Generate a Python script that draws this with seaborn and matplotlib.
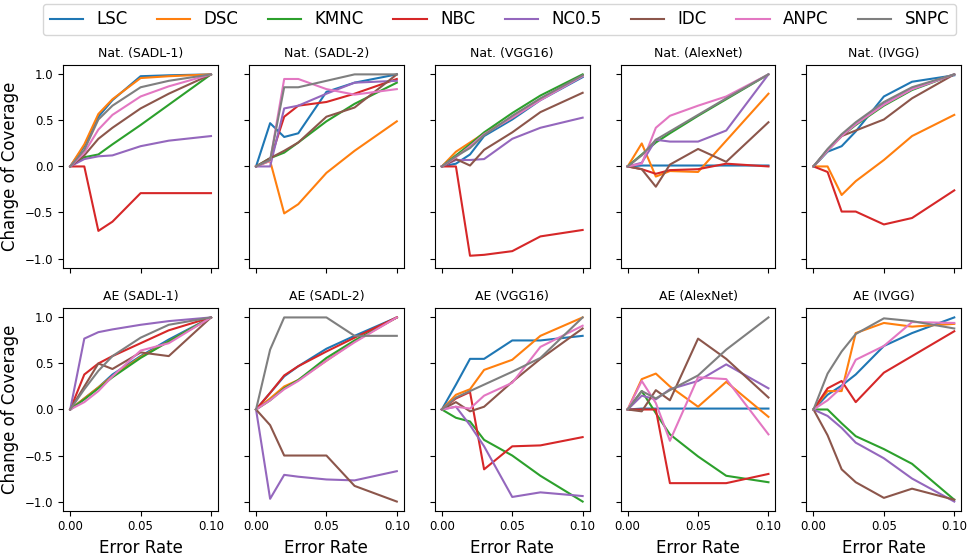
import matplotlib
matplotlib.use("Agg")
import matplotlib.pyplot as plt
from matplotlib.lines import Line2D
from matplotlib.ticker import FormatStrFormatter
import pandas as pd
import seaborn as sns

error_rates = [0.0, 0.01, 0.02, 0.03, 0.05, 0.07, 0.10]
metrics = ['LSC', 'DSC', 'KMNC', 'NBC', 'NC0.5', 'IDC', 'ANPC', 'SNPC']

# each panel: one row per metric, same order as `metrics`
nat_sadl1 = [
    [0, 0.22, 0.54, 0.72, 0.98, 0.99, 1.0],
    [0, 0.24, 0.57, 0.73, 0.96, 0.98, 1.0],
    [0, 0.10, 0.13, 0.24, 0.45, 0.67, 1.0],
    [0, 0.0, -0.70, -0.60, -0.29, -0.29, -0.29],
    [0, 0.08, 0.11, 0.12, 0.22, 0.28, 0.33],
    [0, 0.12, 0.30, 0.42, 0.63, 0.79, 1.0],
    [0, 0.15, 0.40, 0.56, 0.76, 0.87, 1.0],
    [0, 0.18, 0.51, 0.66, 0.86, 0.93, 1.0],
]
nat_sadl2 = [
    [0, 0.47, 0.32, 0.36, 0.81, 0.91, 1.0],
    [0, 0.06, -0.51, -0.41, -0.07, 0.17, 0.49],
    [0, 0.09, 0.15, 0.26, 0.49, 0.68, 0.91],
    [0, 0.07, 0.54, 0.66, 0.70, 0.79, 0.95],
    [0, 0.0, 0.63, 0.66, 0.79, 0.91, 0.93],
    [0, 0.09, 0.17, 0.26, 0.54, 0.64, 1.0],
    [0, 0.06, 0.95, 0.95, 0.84, 0.78, 0.84],
    [0, 0.07, 0.86, 0.86, 0.93, 1.0, 1.0],
]
nat_vgg16 = [
    [0, 0.03, 0.13, 0.33, 0.51, 0.72, 0.97],
    [0, 0.16, 0.26, 0.36, 0.53, 0.73, 0.99],
    [0, 0.12, 0.24, 0.37, 0.58, 0.77, 1.0],
    [0, 0.0, -0.97, -0.96, -0.92, -0.76, -0.69],
    [0, 0.07, 0.07, 0.08, 0.30, 0.42, 0.53],
    [0, 0.08, 0.01, 0.18, 0.37, 0.59, 0.80],
    [0, 0.10, 0.22, 0.35, 0.53, 0.72, 0.98],
    [0, 0.11, 0.20, 0.34, 0.55, 0.74, 0.99],
]
nat_alexnet = [
    [0, 0.01, 0.01, 0.01, 0.01, 0.01, 0.01],
    [0, 0.25, -0.11, -0.05, -0.06, 0.28, 0.79],
    [0, 0.13, 0.26, 0.36, 0.55, 0.73, 1.0],
    [0, -0.03, -0.08, -0.04, -0.03, 0.03, 0.0],
    [0, 0.04, 0.29, 0.27, 0.27, 0.39, 1.0],
    [0, -0.03, -0.22, 0.02, 0.19, 0.05, 0.48],
    [0, 0.03, 0.42, 0.55, 0.66, 0.76, 1.0],
    [0, 0.12, 0.29, 0.38, 0.56, 0.74, 1.0],
]
nat_ivgg = [
    [0, 0.16, 0.22, 0.38, 0.76, 0.92, 0.99],
    [0, 0.0, -0.31, -0.16, 0.07, 0.33, 0.56],
    [0, 0.17, 0.33, 0.45, 0.66, 0.83, 1.0],
    [0, -0.06, -0.49, -0.49, -0.63, -0.56, -0.26],
    [0, 0.18, 0.34, 0.46, 0.68, 0.84, 1.0],
    [0, 0.18, 0.33, 0.39, 0.51, 0.74, 1.0],
    [0, 0.17, 0.33, 0.46, 0.67, 0.84, 1.0],
    [0, 0.19, 0.35, 0.48, 0.70, 0.86, 1.0],
]
ae_sadl1 = [
    [0, 0.12, 0.24, 0.38, 0.58, 0.76, 1.0],
    [0, 0.12, 0.24, 0.36, 0.57, 0.74, 1.0],
    [0, 0.11, 0.23, 0.35, 0.56, 0.74, 1.0],
    [0, 0.38, 0.50, 0.58, 0.72, 0.86, 1.0],
    [0, 0.77, 0.84, 0.87, 0.92, 0.96, 1.0],
    [0, 0.25, 0.50, 0.44, 0.62, 0.58, 1.0],
    [0, 0.08, 0.20, 0.36, 0.64, 0.72, 1.0],
    [0, 0.22, 0.42, 0.58, 0.78, 0.92, 1.0],
]
ae_sadl2 = [
    [0, 0.18, 0.36, 0.47, 0.66, 0.80, 1.0],
    [0, 0.12, 0.25, 0.32, 0.53, 0.74, 1.0],
    [0, 0.10, 0.23, 0.32, 0.56, 0.75, 1.0],
    [0, 0.18, 0.37, 0.47, 0.63, 0.78, 1.0],
    [0, -0.97, -0.71, -0.73, -0.76, -0.77, -0.67],
    [0, -0.17, -0.50, -0.50, -0.50, -0.83, -1.0],
    [0, 0.10, 0.22, 0.31, 0.53, 0.73, 1.0],
    [0, 0.65, 1.0, 1.0, 1.0, 0.80, 0.80],
]
ae_vgg16 = [
    [0, 0.27, 0.55, 0.55, 0.75, 0.75, 0.80],
    [0, 0.16, 0.22, 0.43, 0.54, 0.80, 1.0],
    [0, -0.09, -0.13, -0.33, -0.50, -0.72, -1.0],
    [0, 0.12, 0.19, -0.65, -0.40, -0.39, -0.30],
    [0, 0.03, -0.17, -0.40, -0.95, -0.90, -0.94],
    [0, 0.08, -0.02, 0.03, 0.30, 0.55, 0.88],
    [0, 0.03, 0.01, 0.15, 0.29, 0.68, 0.91],
    [0, 0.13, 0.20, 0.27, 0.41, 0.56, 1.0],
]
ae_alexnet = [
    [0, 0.01, 0.01, 0.01, 0.01, 0.01, 0.01],
    [0, 0.33, 0.39, 0.25, 0.03, 0.30, -0.08],
    [0, 0.20, -0.04, -0.27, -0.51, -0.72, -0.79],
    [0, 0.0, 0.0, -0.80, -0.80, -0.80, -0.70],
    [0, 0.15, 0.11, 0.22, 0.31, 0.49, 0.23],
    [0, -0.02, 0.21, 0.10, 0.77, 0.55, 0.13],
    [0, 0.31, 0.07, -0.34, 0.35, 0.33, -0.27],
    [0, 0.20, 0.12, 0.21, 0.37, 0.65, 1.0],
]
ae_ivgg = [
    [0, 0.16, 0.26, 0.38, 0.69, 0.83, 1.0],
    [0, 0.20, 0.20, 0.83, 0.94, 0.90, 0.93],
    [0, 0.0, -0.15, -0.29, -0.43, -0.59, -0.98],
    [0, 0.23, 0.31, 0.08, 0.40, 0.58, 0.85],
    [0, -0.07, -0.20, -0.36, -0.53, -0.75, -1.0],
    [0, -0.28, -0.65, -0.79, -0.96, -0.86, -0.98],
    [0, 0.10, 0.24, 0.54, 0.69, 0.95, 0.94],
    [0, 0.39, 0.63, 0.82, 0.99, 0.96, 0.88],
]

panels = [
    ('Nat. (SADL-1)', nat_sadl1), ('Nat. (SADL-2)', nat_sadl2),
    ('Nat. (VGG16)', nat_vgg16), ('Nat. (AlexNet)', nat_alexnet),
    ('Nat. (IVGG)', nat_ivgg),
    ('AE (SADL-1)', ae_sadl1), ('AE (SADL-2)', ae_sadl2),
    ('AE (VGG16)', ae_vgg16), ('AE (AlexNet)', ae_alexnet),
    ('AE (IVGG)', ae_ivgg),
]

rows = []
for title, values in panels:
    for metric, ys in zip(metrics, values):
        for x, y in zip(error_rates, ys):
            rows.append((title, metric, x, y))
df = pd.DataFrame(rows, columns=['panel', 'metric', 'rate', 'change'])

palette = sns.color_palette('tab10', len(metrics))

fig, axes = plt.subplots(2, 5, figsize=(9.72, 5.57), dpi=100, sharex=True, sharey=True)
fig.subplots_adjust(left=0.065, right=0.989, top=0.883, bottom=0.083,
                    wspace=0.2, hspace=0.2)

for ax, (title, _) in zip(axes.flat, panels):
    sns.lineplot(data=df[df['panel'] == title], x='rate', y='change',
                 hue='metric', hue_order=metrics, palette=palette,
                 ax=ax, legend=False)
    ax.set_title(title, fontsize=9)
    ax.set_xlabel('')
    ax.set_ylabel('')
    ax.tick_params(labelsize=8.5)

axes[0, 0].set_xticks([0.0, 0.05, 0.10])
axes[0, 0].xaxis.set_major_formatter(FormatStrFormatter('%.2f'))
axes[0, 0].set_yticks([-1.0, -0.5, 0.0, 0.5, 1.0])

for ax in axes[:, 0]:
    ax.set_ylabel('Change of Coverage', fontsize=12)
for ax in axes[1, :]:
    ax.set_xlabel('Error Rate', fontsize=12)

handles = [Line2D([], [], color=c, lw=1.5) for c in palette]
fig.legend(handles, metrics, loc='lower left', ncol=8, mode='expand',
           bbox_to_anchor=(43 / 972, 1 - 35 / 557, 913 / 972, 31 / 557),
           fontsize=12, borderaxespad=0)

fig.savefig('out.png', dpi=100)
